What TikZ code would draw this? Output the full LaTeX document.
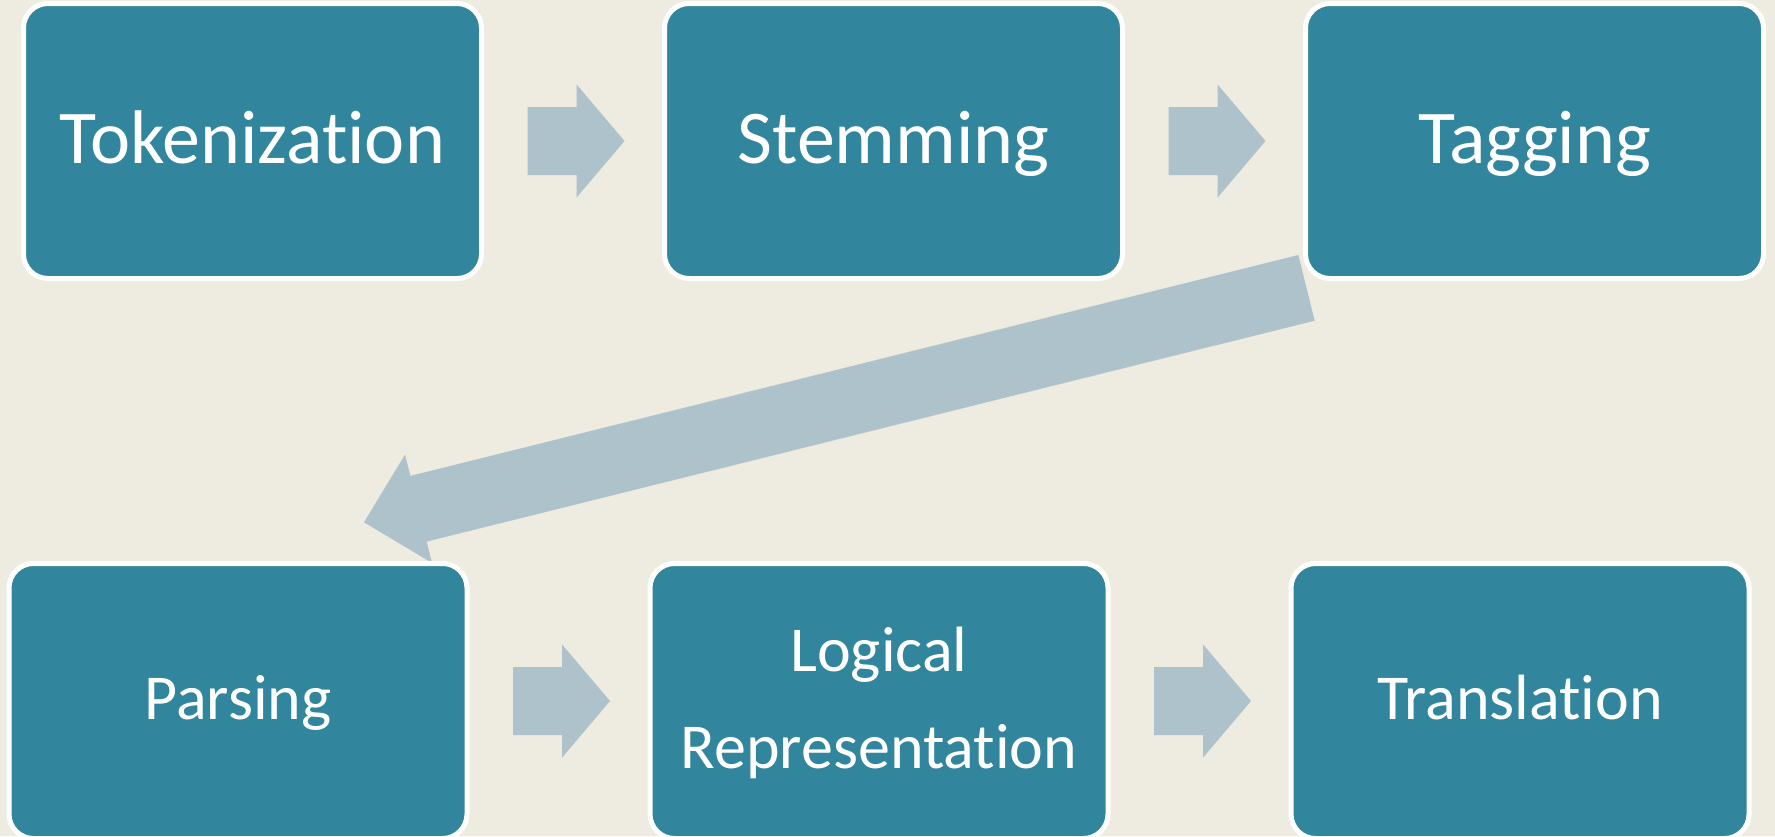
\documentclass[tikz,border=0pt]{standalone}
\usepackage{fontspec}
\setmainfont{Carlito}[Ligatures={NoCommon,NoRare}]
\usetikzlibrary{calc}

\definecolor{pagebg}{HTML}{EEEBE0}
\definecolor{boxteal}{HTML}{31859C}
\definecolor{arrowgrey}{HTML}{AEC2CB}

\pgfdeclarelayer{paper}
\pgfdeclarelayer{arrowlayer}
\pgfsetlayers{paper,arrowlayer,main}

% Block arrow from tail #1 to tip #2:
% #3 shaft half width, #4 head half width, #5 head length
\newcommand\fatarrow[5]{%
  \coordinate (fa-h) at ($(#2)!#5!(#1)$);
  \fill[arrowgrey]
    ($(#1)!#3!90:(#2)$) -- ($(fa-h)!#3!90:(#2)$) -- ($(fa-h)!#4!90:(#2)$)
    -- (#2)
    -- ($(fa-h)!#4!-90:(#2)$) -- ($(fa-h)!#3!-90:(#2)$) -- ($(#1)!#3!-90:(#2)$)
    -- cycle;}

\tikzset{
  stagebox/.style={rectangle, rounded corners=24.5pt, draw=white, line width=5pt,
    fill=boxteal, minimum width=458pt, minimum height=275pt,
    inner sep=0pt, outer sep=0pt, text=white, text width=440pt, align=center},
  toptext/.style={font=\fontsize{76}{92}\selectfont, text height=44pt, text depth=0pt},
  lowtext/.style={font=\fontsize{64}{97}\selectfont, text height=36pt, text depth=0pt},
}

\begin{document}
\begin{tikzpicture}[x=1pt, y=-1pt]
  \begin{pgfonlayer}{paper}
    \fill[pagebg] (0,0) rectangle (1775,836);
  \end{pgfonlayer}
  \useasboundingbox (0,0) rectangle (1775,836);

  % processing stages
  \node[stagebox, toptext] (tok)   at (252.5,141) {Tokenization};
  \node[stagebox, toptext] (stem)  at (893.5,141) {Stemming};
  \node[stagebox, toptext] (tag)   at (1534.5,141) {Tagging};
  \node[stagebox, lowtext] (parse) at (238,701) {Parsing};
  \node[stagebox, lowtext, text height=0pt, text depth=60pt] (logic) at (879,701)
    {Logical\\Representation};
  \node[stagebox, lowtext] (trans) at (1520,701) {Translation};

  % arrow end points
  \coordinate (a1s) at ($(tok.east)+(46,0)$);
  \coordinate (a1e) at ($(stem.west)+(-40,0)$);
  \coordinate (a2s) at ($(stem.east)+(46,0)$);
  \coordinate (a2e) at ($(tag.west)+(-40,0)$);
  \coordinate (a3s) at ($(tag.south west)+(1,9.35)$);
  \coordinate (a3e) at ($(parse.north east)+(-103,-41.2)$);
  \coordinate (a4s) at ($(parse.east)+(46,0)$);
  \coordinate (a4e) at ($(logic.west)+(-40,0)$);
  \coordinate (a5s) at ($(logic.east)+(46,0)$);
  \coordinate (a5e) at ($(trans.west)+(-40,0)$);

  \begin{pgfonlayer}{arrowlayer}
    \fatarrow{a1s}{a1e}{34pt}{56.6pt}{48pt}
    \fatarrow{a2s}{a2e}{34pt}{56.6pt}{48pt}
    \fatarrow{a3s}{a3e}{33.85pt}{55.85pt}{56.2pt}
    \fatarrow{a4s}{a4e}{34pt}{56.6pt}{48pt}
    \fatarrow{a5s}{a5e}{34pt}{56.6pt}{48pt}
  \end{pgfonlayer}
\end{tikzpicture}
\end{document}
